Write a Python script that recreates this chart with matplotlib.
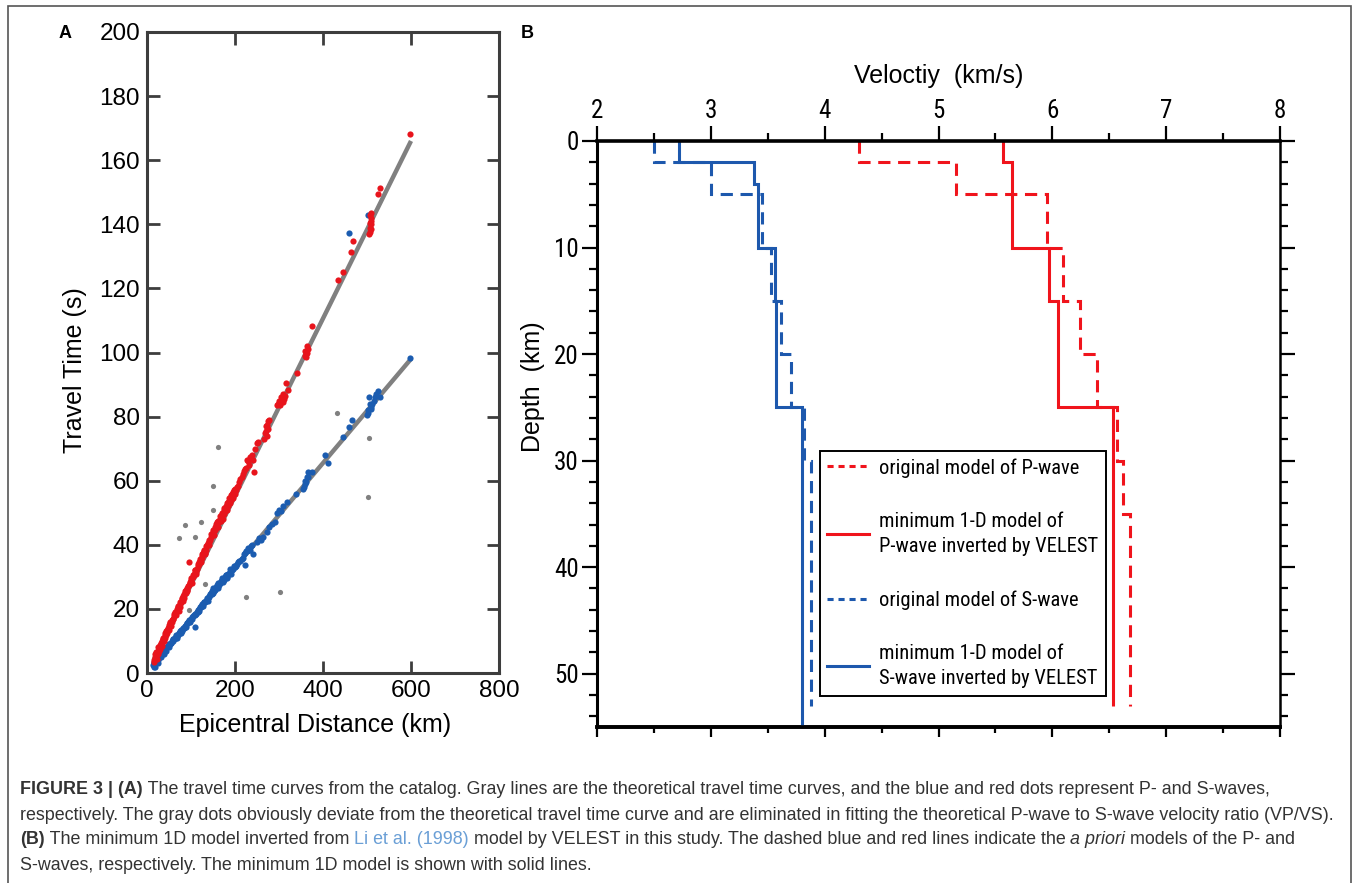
import matplotlib
matplotlib.use("Agg")
import matplotlib.pyplot as plt
from matplotlib import font_manager
from matplotlib.font_manager import FontProperties
from matplotlib.lines import Line2D
from matplotlib.patches import Rectangle
from matplotlib.ticker import MultipleLocator

W, H = 1357, 883

# ---------------- panel A data ----------------
theory_x = [15, 600]
theory_s_t = [4, 166]      # upper gray line (red dots)
theory_p_t = [3, 98]       # lower gray line (blue dots)

red_x = [15, 18, 20, 22, 24, 26, 28, 30, 32, 34, 36, 38, 40, 42, 44, 46, 48,
         50, 52, 55, 57, 60, 62, 65, 68, 70, 72, 75, 78, 80, 82, 85, 88, 90,
         92, 95, 96, 98, 100, 102, 105, 108, 110, 112, 115, 118, 120, 122,
         125, 128, 130, 132, 135, 138, 140, 142, 145, 148, 150, 152, 155,
         158, 160, 162, 165, 168, 170, 172, 175, 178, 180, 182, 185, 188,
         190, 192, 195, 198, 200, 205, 210, 215, 220, 225, 228, 232, 235,
         243, 245, 249, 253, 265, 268, 270, 272, 275, 278, 295, 300, 305,
         308, 310, 313, 317, 321, 340, 358, 360, 362, 363, 365, 374, 434,
         445, 463, 469, 505, 506, 507, 508, 509, 510, 524, 530, 598]
red_t = [3.5, 5, 6.5, 4.5, 7, 6, 8, 7.5, 9.5, 8.5, 10.5, 10, 12, 11, 13, 12.5,
         14, 13.5, 15.5, 14.8, 16.5, 17, 18.5, 18, 19.5, 20.5, 19.5, 21.5, 22,
         23.5, 22.5, 24.5, 25, 26.5, 25.5, 27.5, 34.7, 28, 29, 28, 30.5, 31,
         32, 31, 33.5, 34, 35.5, 34.5, 36.5, 37.5, 38, 37, 39.5, 40, 41, 40,
         42.5, 43, 44, 43, 45.5, 46, 47, 45.5, 48, 48.5, 49.5, 48, 51, 50.5,
         52, 51, 53.5, 53, 54, 55.5, 54.5, 57, 56, 58, 59.5, 61, 63, 64, 66.5,
         65, 67.5, 62.8, 70, 71.7, 72, 73, 75, 77, 74, 78.5, 79, 83.5, 85, 86,
         84.5, 87, 86.5, 90.4, 88.3, 93.5, 99, 100.5, 98.5, 102, 101, 108.4,
         122.5, 125.1, 131.3, 134.7, 137, 139, 140.5, 142, 143.5, 138.5,
         149.3, 151.2, 168.3]
# second pass over the dense red band
red_x_more = [17, 19, 21, 23, 25, 27, 29, 31, 33, 35, 37, 39, 41, 43, 45, 47,
              49, 51, 53, 56, 58, 61, 63, 66, 69, 71, 74, 76, 79, 81, 84, 86,
              89, 91, 94, 97, 99, 101, 104, 106, 109, 111, 114, 116, 119, 121,
              124, 126, 129, 131, 134, 136, 139, 141, 144, 146, 149, 151, 154,
              156, 159, 161, 164, 166, 169, 171, 174, 176, 179, 181, 184, 186,
              189, 191, 194, 196, 199, 202, 207, 212, 218, 222, 230, 238, 240,
              270, 273, 276, 298, 302, 311, 361, 364, 507, 508, 506, 509]
red_t_more = [4, 6, 5.5, 6, 8, 7, 8.8, 8.5, 10, 9.5, 11, 11, 12.5, 12, 13.5,
              13.5, 15, 14.5, 16, 16, 17, 17.8, 19, 19, 20, 21, 20.5, 22, 23,
              24, 23.5, 25.5, 26, 25.8, 27, 28.5, 29.5, 28.5, 30, 31, 32, 31.5,
              32.5, 34, 34.5, 35, 36, 37, 38.5, 37.5, 38.5, 40, 40.5, 41.5,
              41.5, 43.5, 43.5, 44.5, 44.5, 46.5, 45.5, 47.5, 47, 49, 47.5, 50,
              49.5, 51.5, 51, 53, 52, 54.5, 54, 55, 56, 56.5, 57.5, 57, 58.5,
              60.5, 62, 63.5, 66, 68, 66.5, 75.5, 77.5, 76, 84, 83.5, 85.5,
              99.5, 100, 137.5, 141, 143, 140]

blue_x = [14, 16, 18, 20, 22, 24, 26, 28, 30, 32, 34, 36, 38, 40, 42, 44, 46,
          48, 50, 52, 55, 58, 60, 63, 66, 68, 70, 73, 76, 78, 80, 83, 86, 88,
          90, 93, 96, 98, 100, 103, 106, 109, 110, 113, 116, 118, 120, 123,
          126, 128, 130, 133, 136, 138, 140, 143, 146, 148, 150, 152, 155,
          158, 160, 162, 165, 168, 170, 172, 175, 178, 180, 182, 185, 188,
          190, 192, 195, 198, 200, 204, 210, 215, 220, 223, 225, 230, 235,
          238, 241, 250, 255, 260, 264, 272, 278, 283, 290, 295, 300, 305,
          310, 318, 339, 355, 358, 360, 363, 366, 375, 405, 411, 446, 459,
          467, 500, 503, 505, 507, 510, 515, 520, 525, 530, 503, 458, 598]
blue_t = [2.5, 3, 2, 3.5, 4, 3, 4.5, 5, 5.5, 5, 6, 6.5, 6, 7, 7.5, 7, 8, 8.5,
          8, 9, 9.5, 10, 10.5, 11, 11.5, 11, 12, 12.5, 13, 12.5, 13.5, 14,
          14.5, 15, 15.5, 16, 16.5, 16, 17, 17.5, 18, 14.4, 18.5, 19, 19.5,
          20, 20.5, 21, 21.5, 21, 22, 22.5, 23, 22.5, 24, 24.5, 25, 25.5, 26,
          25.5, 26.5, 27, 27.5, 26.5, 28, 28.5, 29, 28.5, 29.5, 30, 30.5,
          29.5, 31, 31.5, 32, 31, 32.5, 33, 33.5, 34, 35, 35.5, 37, 33.6, 38,
          39, 38.5, 40, 37.2, 41, 42, 41.5, 42.5, 44, 45.5, 46.5, 47, 50, 51,
          50.5, 52, 53.4, 56, 57.5, 59, 60, 61, 62.7, 62.7, 68, 65.4, 73.6,
          76.8, 78.9, 80.5, 82, 86.2, 84, 83, 85, 87, 88, 86, 142.9, 137.2,
          98.4]
blue_x_more = [15, 17, 19, 21, 23, 25, 27, 29, 31, 33, 35, 37, 39, 41, 43, 45,
               47, 49, 51, 54, 57, 59, 62, 65, 67, 69, 72, 75, 77, 79, 82, 85,
               87, 89, 92, 95, 97, 99, 102, 105, 108, 112, 115, 117, 119, 122,
               125, 127, 129, 132, 135, 137, 139, 142, 145, 147, 149, 151, 154,
               157, 159, 161, 164, 167, 169, 171, 174, 177, 179, 181, 184, 187,
               189, 191, 194, 197, 199, 202, 207, 212, 218, 222, 227, 232, 236,
               357, 362, 365, 502, 508, 512, 518]
blue_t_more = [2, 3.5, 3, 4, 3.5, 4, 5, 5.5, 6, 6, 6.5, 7, 7, 7.5, 8, 8, 8.5,
               9, 9, 9.5, 10, 10.5, 10.5, 11, 12, 11.5, 12.5, 12.5, 13.5, 13,
               14, 14, 14.8, 14.5, 15.5, 16, 16.5, 17, 17, 17.8, 18, 18.5, 19,
               19.8, 19.5, 20.5, 21, 21.5, 22, 22, 22.5, 23.5, 23.5, 23.8, 24.5,
               24.8, 25, 26.5, 26, 26.5, 27, 28, 27.5, 28, 28.8, 29.5, 29, 29.8,
               30.5, 30, 31, 31, 32.5, 32, 32, 33.5, 33, 33.5, 34.5, 35, 36,
               37.5, 38, 38.5, 39.5, 58, 59.5, 61, 81, 82.5, 84, 86]

gray_x = [162, 432, 505, 151, 503, 149, 123, 86, 73, 109, 132, 96, 224, 302]
gray_t = [70.4, 81, 73.2, 58.3, 55, 51, 47.2, 46.2, 42, 42.3, 27.8, 19.7,
          23.8, 25.4]

# ---------------- panel B data: layer top depths and velocities ----------------
p_orig_depth = [0, 2, 5, 10, 15, 20, 25, 30, 35, 53]
p_orig_vel = [4.30, 5.15, 5.95, 6.09, 6.24, 6.39, 6.57, 6.62, 6.68]
p_min_depth = [0, 2, 10, 15, 25, 53]
p_min_vel = [5.57, 5.65, 5.97, 6.05, 6.53]
s_orig_depth = [0, 2, 5, 10, 15, 20, 25, 30, 53]
s_orig_vel = [2.50, 3.00, 3.45, 3.53, 3.62, 3.70, 3.82, 3.88]
s_min_depth = [0, 2, 4, 10, 15, 25, 55]
s_min_vel = [2.72, 3.38, 3.41, 3.56, 3.57, 3.80]

legend_labels = ["original model of P-wave",
                 "minimum 1-D model of\nP-wave inverted by VELEST",
                 "original model of S-wave",
                 "minimum 1-D model of\nS-wave inverted by VELEST"]

RED_DOT = "#e8141c"
BLUE_DOT = "#1b5cb0"
RED = "#f0141c"
BLUE = "#1d58ad"


def has_font(name):
    try:
        path = font_manager.findfont(FontProperties(family=name),
                                     fallback_to_default=False)
        return bool(path)
    except Exception:
        return False


SANS = "Liberation Sans"
NARROW = SANS
for cand in ["Liberation Sans Narrow", "Arial Narrow", "Roboto Condensed",
             "Open Sans Condensed", "Noto Sans Condensed"]:
    if has_font(cand):
        NARROW = cand
        break

plt.rcParams["font.family"] = [SANS, "DejaVu Sans"]

fig = plt.figure(figsize=(W / 100, H / 100), dpi=100)
renderer = fig.canvas.get_renderer()


def fx(px):
    return px / W


def fy(py):
    return 1 - py / H


# outer frame
fig.patches.append(Rectangle((fx(8), -0.02), fx(1351) - fx(8), fy(6) + 0.02,
                             transform=fig.transFigure, fill=False,
                             edgecolor="#555555", linewidth=1.2))

# ================= panel A =================
axA = fig.add_axes([fx(147), fy(673), fx(499) - fx(147), (673 - 32) / H])
axA.plot(theory_x, theory_s_t, color="#808080", lw=3.2, solid_capstyle="butt",
         zorder=1)
axA.plot(theory_x, theory_p_t, color="#808080", lw=3.2, solid_capstyle="butt",
         zorder=1)
axA.scatter(gray_x, gray_t, s=14, color="#808080", lw=0, zorder=2)
axA.scatter(blue_x + blue_x_more, blue_t + blue_t_more, s=20, color=BLUE_DOT,
            lw=0, zorder=3)
axA.scatter(red_x + red_x_more, red_t + red_t_more, s=20, color=RED_DOT,
            lw=0, zorder=4)
axA.set_xlim(0, 800)
axA.set_ylim(0, 200)
axA.xaxis.set_major_locator(MultipleLocator(200))
axA.yaxis.set_major_locator(MultipleLocator(20))
for sp in axA.spines.values():
    sp.set_color("#3d3d3d")
    sp.set_linewidth(2.2)
axA.tick_params(direction="in", length=9, width=2, color="#3d3d3d",
                labelsize=17.5, top=True, right=True, pad=5)
axA.set_xlabel("Epicentral Distance (km)", fontsize=18, va="top")
axA.xaxis.set_label_coords(0.477, -0.062)
axA.set_ylabel("Travel Time (s)", fontsize=18)
axA.yaxis.set_label_coords(-0.17, 0.473)

# ================= panel B =================
axB = fig.add_axes([fx(597), fy(727), fx(1280) - fx(597), (727 - 141) / H])
axB.stairs(p_orig_vel, p_orig_depth, orientation="horizontal", baseline=None,
           color=RED, lw=2.2, linestyle=(0, (4, 2.5)))
axB.stairs(p_min_vel, p_min_depth, orientation="horizontal", baseline=None,
           color=RED, lw=2.2)
axB.stairs(s_orig_vel, s_orig_depth, orientation="horizontal", baseline=None,
           color=BLUE, lw=2.2, linestyle=(0, (4, 2.5)))
axB.stairs(s_min_vel, s_min_depth, orientation="horizontal", baseline=None,
           color=BLUE, lw=2.2)
axB.set_xlim(2, 8)
axB.set_ylim(55, 0)
axB.xaxis.tick_top()
axB.xaxis.set_label_position("top")
axB.xaxis.set_major_locator(MultipleLocator(1))
axB.xaxis.set_minor_locator(MultipleLocator(0.5))
axB.yaxis.set_major_locator(MultipleLocator(10))
axB.yaxis.set_minor_locator(MultipleLocator(2))
for side, lw in [("top", 2.6), ("left", 2.2), ("bottom", 2.6), ("right", 1.8)]:
    axB.spines[side].set_linewidth(lw)
    axB.spines[side].set_color("black")
axB.tick_params(axis="x", which="major", direction="out", length=11, width=1.6,
                top=True, bottom=False, labeltop=True, labelbottom=False,
                labelsize=18, pad=2)
axB.tick_params(axis="x", which="minor", direction="out", length=6, width=1.6,
                top=True, bottom=False)
axB.tick_params(axis="y", which="major", direction="out", length=11, width=1.6,
                left=True, right=True, labelleft=True, labelright=False,
                labelsize=18, pad=2)
axB.tick_params(axis="y", which="minor", direction="out", length=6, width=1.6,
                left=True, right=True)
for lab in axB.get_xticklabels() + axB.get_yticklabels():
    lab.set_family(NARROW)

secB = axB.secondary_xaxis("bottom")
secB.xaxis.set_major_locator(MultipleLocator(1))
secB.xaxis.set_minor_locator(MultipleLocator(0.5))
secB.tick_params(axis="x", which="major", direction="out", length=7, width=1.6,
                 labelbottom=False)
secB.tick_params(axis="x", which="minor", direction="out", length=4, width=1.6)
secB.spines["bottom"].set_linewidth(2.6)

axB.set_xlabel("Veloctiy  (km/s)", fontsize=18)
axB.xaxis.set_label_coords(0.5, 1.099)
axB.set_ylabel("Depth  (km)", fontsize=18)
axB.yaxis.set_label_coords(-0.076, 0.58)

# legend text sized so the widest line spans ~218 px, as in the figure
probe = fig.text(0, 0, "P-wave inverted by VELEST", fontsize=10, family=NARROW)
leg_size = 10 * 218 / probe.get_window_extent(renderer).width
probe.remove()
leg_px = leg_size / 0.72

handles = [Line2D([], [], color=RED, lw=2.2, linestyle=(0, (2, 1.6))),
           Line2D([], [], color=RED, lw=2.2),
           Line2D([], [], color=BLUE, lw=2.2, linestyle=(0, (2, 1.6))),
           Line2D([], [], color=BLUE, lw=2.2)]
leg = axB.legend(handles, legend_labels, loc="upper left",
                 bbox_to_anchor=((820 - 597) / 683, (727 - 451) / 586),
                 borderaxespad=0, prop={"family": NARROW, "size": leg_size},
                 frameon=True, fancybox=False, framealpha=1,
                 edgecolor="black", handlelength=42 / leg_px,
                 handletextpad=10 / leg_px, labelspacing=1.65,
                 borderpad=0.35)
for t in leg.get_texts():
    t.set_linespacing(1.45)
leg.get_frame().set_linewidth(1.4)

# panel letters
fig.text(fx(65), fy(33), "A", fontsize=13, fontweight="bold", ha="center",
         va="center")
fig.text(fx(527), fy(33), "B", fontsize=13, fontweight="bold", ha="center",
         va="center")

# ================= caption =================
CAP_SIZE = 12.9
CAP_COLOR = "#333333"
LINK = "#6a9fd6"
caption = [
    (790, [("FIGURE 3 | (A)", {"fontweight": "bold"}),
           (" The travel time curves from the catalog. Gray lines are the "
            "theoretical travel time curves, and the blue and red dots "
            "represent P- and S-waves,", {})]),
    (815, [("respectively. The gray dots obviously deviate from the "
            "theoretical travel time curve and are eliminated in fitting the "
            "theoretical P-wave to S-wave velocity ratio (VP/VS).", {})]),
    (840, [("(B)", {"fontweight": "bold"}),
           (" The minimum 1D model inverted from ", {}),
           ("Li et al. (1998)", {"color": LINK}),
           (" model by VELEST in this study. The dashed blue and red lines "
            "indicate the ", {}),
           ("a priori", {"fontstyle": "italic"}),
           (" models of the P- and", {})]),
    (865, [("S-waves, respectively. The minimum 1D model is shown with solid "
            "lines.", {})]),
]


def advance(text, kw):
    a = fig.text(0, 0, "x" + text + "x", fontsize=CAP_SIZE, **kw)
    b = fig.text(0, 0, "xx", fontsize=CAP_SIZE, **kw)
    w = a.get_window_extent(renderer).width - b.get_window_extent(renderer).width
    a.remove()
    b.remove()
    return w


for ypx, runs in caption:
    xpx = 20
    for text, kw in runs:
        style = {"color": CAP_COLOR}
        style.update(kw)
        fig.text(fx(xpx), fy(ypx), text, fontsize=CAP_SIZE, va="center",
                 ha="left", **style)
        xpx += advance(text, {k: v for k, v in kw.items() if k != "color"})

fig.savefig("out.png", dpi=100)
